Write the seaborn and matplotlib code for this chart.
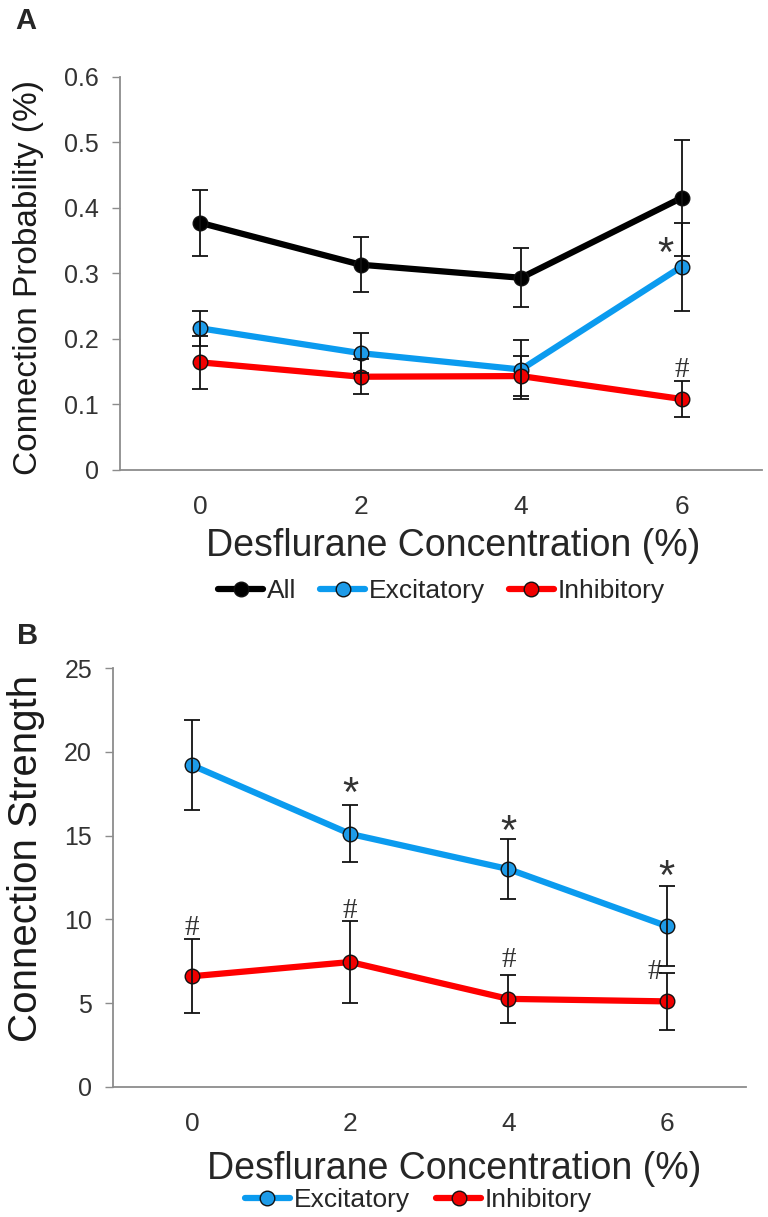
import numpy as np
import pandas as pd
import matplotlib
matplotlib.use('Agg')
import matplotlib.pyplot as plt
import seaborn as sns
from matplotlib.lines import Line2D

sns.set_style('white')
plt.rcParams['font.family'] = ['Liberation Sans', 'DejaVu Sans']

# data
conc = [0, 2, 4, 6]

prob_all = [0.377, 0.313, 0.293, 0.415]
prob_all_err = [0.050, 0.042, 0.045, 0.088]
prob_exc = [0.216, 0.178, 0.153, 0.310]
prob_exc_err = [0.027, 0.030, 0.045, 0.067]
prob_inh = [0.164, 0.142, 0.143, 0.108]
prob_inh_err = [0.040, 0.027, 0.030, 0.028]

str_exc = [19.2, 15.1, 13.0, 9.6]
str_exc_err = [2.7, 1.7, 1.8, 2.4]
str_inh = [6.6, 7.45, 5.25, 5.1]
str_inh_err = [2.2, 2.45, 1.45, 1.7]

colors = {'All': '#000000', 'Excitatory': '#0B9BEF', 'Inhibitory': '#FF0000'}
face = {'All': '#000000', 'Excitatory': '#1E9BE8', 'Inhibitory': '#F00000'}

sans = ['Liberation Sans', 'DejaVu Sans']
serif = ['Liberation Serif', 'DejaVu Serif']
tick_color = '#333333'
spine_color = '#8C8C8C'


def style_axis(ax, ylim, yticks, yticklabels, ylabel, lab_size, ylab_xy, xlab_x, xpad):
    ax.set_xlim(-1, 7)
    ax.set_ylim(*ylim)
    ax.set_yticks(yticks)
    ax.set_yticklabels(yticklabels, family=sans)
    ax.set_xticks(conc)
    ax.set_xticklabels([str(c) for c in conc], family=sans)
    for s in ['top', 'right']:
        ax.spines[s].set_visible(False)
    for s in ['left', 'bottom']:
        ax.spines[s].set_color(spine_color)
        ax.spines[s].set_linewidth(1.3)
    ax.tick_params(axis='y', direction='out', length=6, width=1, color=spine_color,
                   pad=9, labelsize=18, labelcolor=tick_color, left=True)
    ax.tick_params(axis='x', length=0, pad=18, labelsize=19, labelcolor=tick_color)
    ax.set_xlabel('Desflurane Concentration (%)', fontsize=27, color='#262626',
                  family=sans, labelpad=xpad)
    ax.xaxis.label.set_x(xlab_x)
    ax.set_ylabel(ylabel, fontsize=lab_size, color='#1a1a1a', family=sans)
    ax.yaxis.set_label_coords(*ylab_xy)
    ax.grid(False)


def draw_series(ax, names, vals, errs):
    df = pd.DataFrame({
        'conc': conc * len(names),
        'value': [v for vs in vals for v in vs],
        'series': [n for n in names for _ in conc],
    })
    for n, v, e in zip(names, vals, errs):
        sub = df[df['series'] == n]
        sns.lineplot(data=sub, x='conc', y='value', ax=ax, color=colors[n],
                     linewidth=4.5, marker='o', markersize=10.5,
                     markerfacecolor=face[n], markeredgecolor='#111111',
                     markeredgewidth=1, legend=False, zorder=3)
        ax.errorbar(conc, v, yerr=e, fmt='none', ecolor='#111111', elinewidth=1.3,
                    capsize=6, capthick=1.3, zorder=4)


def legend_handles(names):
    return [Line2D([0], [0], color=colors[n], lw=4.5, marker='o', markersize=10.5,
                   markerfacecolor=face[n], markeredgecolor='#111111') for n in names]


fig = plt.figure(figsize=(7.68, 12.17), dpi=100)

# Panel A
axA = fig.add_axes([0.156, 0.614, 0.836, 0.323])
namesA = ['All', 'Excitatory', 'Inhibitory']
draw_series(axA, namesA, [prob_all, prob_exc, prob_inh],
            [prob_all_err, prob_exc_err, prob_inh_err])
style_axis(axA, (0, 0.6), [0, 0.1, 0.2, 0.3, 0.4, 0.5, 0.6],
           ['0', '0.1', '0.2', '0.3', '0.4', '0.5', '0.6'],
           'Connection Probability (%)', 24, (-0.118, 0.49), 0.52, 7)
axA.text(5.8, 0.328, '*', fontsize=30, color='#333333', ha='center', va='center',
         family=sans)
axA.text(6.0, 0.152, '#', fontsize=21, color='#333333', ha='center', va='center',
         family=serif)
legA = fig.legend(handles=legend_handles(namesA), labels=namesA, loc='center',
                  bbox_to_anchor=(0.575, 0.514), ncol=3, frameon=False,
                  handlelength=1.7, handletextpad=0.15, columnspacing=0.9,
                  prop={'family': sans, 'size': 19})
for t in legA.get_texts():
    t.set_color('#262626')

# Panel B
axB = fig.add_axes([0.147, 0.107, 0.824, 0.344])
namesB = ['Excitatory', 'Inhibitory']
draw_series(axB, namesB, [str_exc, str_inh], [str_exc_err, str_inh_err])
style_axis(axB, (0, 25), [0, 5, 10, 15, 20, 25], ['0', '5', '10', '15', '20', '25'],
           'Connection Strength', 29, (-0.108, 0.545), 0.539, 11)
for xi, yi in [(2, 17.45), (4, 15.15), (6, 12.45)]:
    axB.text(xi, yi, '*', fontsize=30, color='#333333', ha='center', va='center',
             family=sans)
for xi, yi in [(0, 9.5), (2, 10.5), (4, 7.6), (5.85, 6.85)]:
    axB.text(xi, yi, '#', fontsize=21, color='#333333', ha='center', va='center',
             family=serif)
legB = fig.legend(handles=legend_handles(namesB), labels=namesB, loc='center',
                  bbox_to_anchor=(0.545, 0.014), ncol=2, frameon=False,
                  handlelength=1.7, handletextpad=0.15, columnspacing=1.0,
                  prop={'family': sans, 'size': 19})
for t in legB.get_texts():
    t.set_color('#262626')

fig.text(0.02, 0.994, 'A', fontsize=21, fontweight='bold', va='top', ha='left',
         family=sans)
fig.text(0.022, 0.489, 'B', fontsize=21, fontweight='bold', va='top', ha='left',
         family=sans)

fig.savefig('out.png', dpi=100)
